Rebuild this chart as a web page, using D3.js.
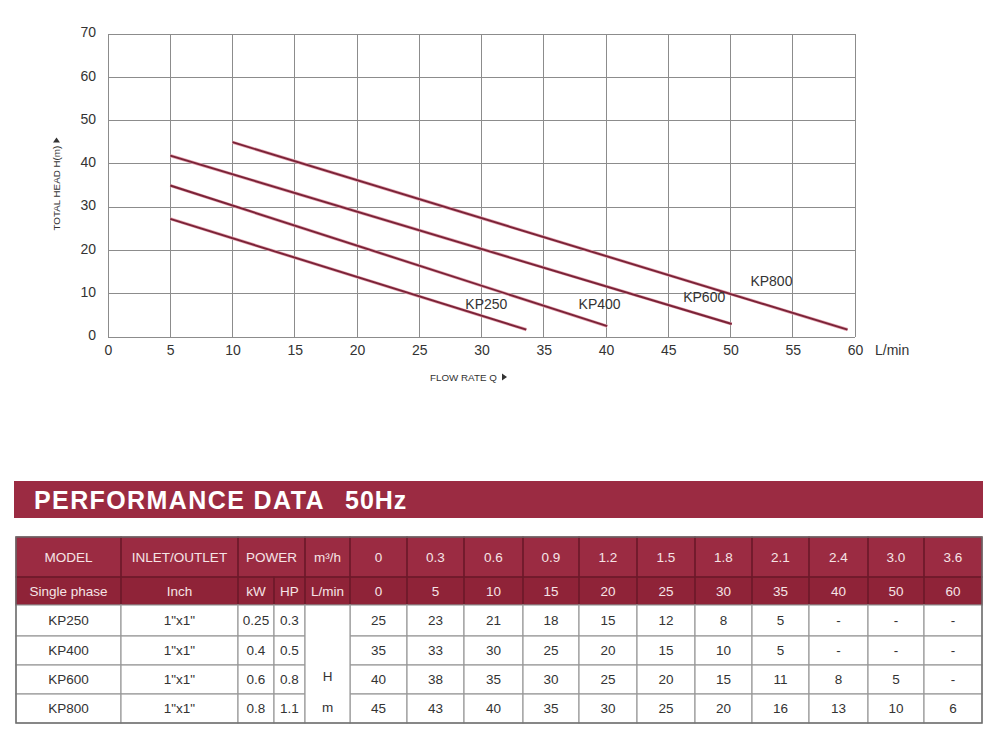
<!DOCTYPE html>
<html><head><meta charset="utf-8">
<script src="https://cdn.jsdelivr.net/npm/d3@7"></script>
<style>
html,body{margin:0;padding:0;background:#fff;}
svg{display:block;font-family:"Liberation Sans",Arial,Helvetica,sans-serif;}
</style></head>
<body>
<svg id="c" width="998" height="738"></svg>
<script>
// ---------- DATA ----------
const xTicks = [0,5,10,15,20,25,30,35,40,45,50,55,60];
const yTicks = [0,10,20,30,40,50,60,70];
const modelNames = ["KP250","KP400","KP600","KP800"];
// performance curves: [flow L/min, head m]
const curveKP250 = [[5, 27.3], [33.6, 1.7]];
const curveKP400 = [[5, 35.0], [40.1, 2.5]];
const curveKP600 = [[5, 41.9], [50.1, 3.0]];
const curveKP800 = [[10, 45.0], [59.4, 1.7]];
// label anchors in data units [flow, head]
const curveLabelAt = [[28.7, 7.6], [37.8, 7.6], [46.2, 9.2], [51.6, 12.9]];

const flowM3h = ["0","0.3","0.6","0.9","1.2","1.5","1.8","2.1","2.4","3.0","3.6"];
const flowLmin = ["0","5","10","15","20","25","30","35","40","50","60"];
const inletOutlet = ['1"x1"','1"x1"','1"x1"','1"x1"'];
const powerKW = ["0.25","0.4","0.6","0.8"];
const powerHP = ["0.3","0.5","0.8","1.1"];
const headKP250 = ["25","23","21","18","15","12","8","5","-","-","-"];
const headKP400 = ["35","33","30","25","20","15","10","5","-","-","-"];
const headKP600 = ["40","38","35","30","25","20","15","11","8","5","-"];
const headKP800 = ["45","43","40","35","30","25","20","16","13","10","6"];

// ---------- CHART ----------
const svg = d3.select("#c");
const x = d3.scaleLinear().domain([0,60]).range([108,855]);
const y = d3.scaleLinear().domain([0,70]).range([337,34]);
const gridCol = "#8c8c8c", txtCol = "#333";

const g = svg.append("g");
g.append("g").selectAll("line").data(xTicks).join("line")
  .attr("x1", d=>x(d)).attr("x2", d=>x(d)).attr("y1", y(0)).attr("y2", y(70))
  .attr("stroke", gridCol).attr("stroke-width", 1).attr("shape-rendering","crispEdges");
g.append("g").selectAll("line").data(yTicks).join("line")
  .attr("x1", x(0)).attr("x2", x(60)).attr("y1", d=>y(d)).attr("y2", d=>y(d))
  .attr("stroke", gridCol).attr("stroke-width", 1).attr("shape-rendering","crispEdges");

// axes (labels only, via d3 axis)
const xAxis = g.append("g").attr("transform", `translate(0,${y(0)})`)
  .call(d3.axisBottom(x).tickValues(xTicks).tickSize(0).tickPadding(8).tickFormat(d3.format("d")));
xAxis.select(".domain").remove();
xAxis.selectAll("text").attr("font-size", 14).attr("fill", txtCol).attr("font-family","Liberation Sans, Arial, sans-serif");
const yAxis = g.append("g").attr("transform", `translate(${x(0)},0)`)
  .call(d3.axisLeft(y).tickValues(yTicks).tickSize(0).tickPadding(12).tickFormat(d3.format("d")));
yAxis.select(".domain").remove();
yAxis.selectAll("text").attr("font-size", 14).attr("fill", txtCol).attr("font-family","Liberation Sans, Arial, sans-serif")
  .attr("dy","0.2em");

// unit label
g.append("text").attr("x", x(60)+20).attr("y", y(0)+18).attr("font-size",14).attr("fill",txtCol).text("L/min");

// axis titles
const ytG = g.append("g").attr("transform", `translate(60,${(y(0)+y(70))/2 - 5}) rotate(-90)`);
ytG.append("text").attr("x",-50).attr("y",0).attr("font-size",9.8).attr("fill",txtCol).text("TOTAL HEAD H(m)");
ytG.append("path").attr("d","M38,-7 L38,0 L43,-3.5 Z").attr("fill",txtCol);
const xtG = g.append("g").attr("transform","translate(430,381)");
xtG.append("text").attr("x",0).attr("y",0).attr("font-size",9.8).attr("fill",txtCol).text("FLOW RATE Q");
xtG.append("path").attr("d","M72,-7.5 L72,-0.5 L77,-4 Z").attr("fill",txtCol);

// curves
const curves = [curveKP250, curveKP400, curveKP600, curveKP800];
const line = d3.line().x(d=>x(d[0])).y(d=>y(d[1]));
g.append("g").selectAll("path").data(curves).join("path")
  .attr("d", line).attr("fill","none").attr("stroke","#e4a3b0").attr("stroke-width",3.2);
g.append("g").selectAll("path").data(curves).join("path")
  .attr("d", line).attr("fill","none").attr("stroke","#7a2337").attr("stroke-width",1.9);
g.append("g").selectAll("text").data(modelNames).join("text")
  .attr("x",(d,i)=>x(curveLabelAt[i][0])).attr("y",(d,i)=>y(curveLabelAt[i][1]))
  .attr("dy","0.35em").attr("font-size",14).attr("fill",txtCol).text(d=>d);

// ---------- BANNER ----------
const red = "#9b2b42", redDark = "#8f2338", headTxt = "#f6e4e6";
svg.append("rect").attr("x",14).attr("y",481).attr("width",969).attr("height",37).attr("fill",red);
svg.append("text").attr("x",34).attr("y",509).attr("font-size",25).attr("font-weight","bold")
  .attr("letter-spacing",1.4).attr("fill","#fff").text("PERFORMANCE DATA");
svg.append("text").attr("x",345).attr("y",509).attr("font-size",25).attr("font-weight","bold")
  .attr("letter-spacing",1).attr("fill","#fff").text("50Hz");

// ---------- TABLE ----------
const colX = [16,121,238,274,305,350,407,464,523,579,637,695,752,809,868,924,982];
const rowY = [537,577,605,636,665,694,723];
const T = svg.append("g").attr("font-size",13.5);
function cell(c0,c1,r0,r1,fill,stroke){
  T.append("rect").attr("x",colX[c0]).attr("y",rowY[r0])
    .attr("width",colX[c1]-colX[c0]).attr("height",rowY[r1]-rowY[r0])
    .attr("fill",fill).attr("stroke",stroke).attr("stroke-width",1.2);
}
function txt(c0,c1,yy,s,col){
  T.append("text").attr("x",(colX[c0]+colX[c1])/2).attr("y",yy).attr("text-anchor","middle")
    .attr("dy","0.35em").attr("fill",col).text(s);
}
// header backgrounds
T.append("rect").attr("x",colX[0]).attr("y",rowY[0]).attr("width",colX[16]-colX[0]).attr("height",rowY[1]-rowY[0]).attr("fill",red);
T.append("rect").attr("x",colX[0]).attr("y",rowY[1]).attr("width",colX[16]-colX[0]).attr("height",rowY[2]-rowY[1]).attr("fill",redDark);
const hs = "#6d1a2a";
const head1 = [[0,1,"MODEL"],[1,2,"INLET/OUTLET"],[2,4,"POWER"],[4,5,"m³/h"]]
  .concat(flowM3h.map((v,i)=>[5+i,6+i,v]));
const head2 = [[0,1,"Single phase"],[1,2,"Inch"],[2,3,"kW"],[3,4,"HP"],[4,5,"L/min"]]
  .concat(flowLmin.map((v,i)=>[5+i,6+i,v]));
head1.forEach(([a,b,s])=>{ cell(a,b,0,1,"none",hs); txt(a,b,(rowY[0]+rowY[1])/2,s,headTxt); });
head2.forEach(([a,b,s])=>{ cell(a,b,1,2,"none",hs); txt(a,b,(rowY[1]+rowY[2])/2,s,headTxt); });

const heads = [headKP250, headKP400, headKP600, headKP800];
const ds = "#9a9a9a", dt = "#333";
modelNames.forEach((m,i)=>{
  const r = 2+i, cy = (rowY[r]+rowY[r+1])/2;
  const vals = [[0,1,m],[1,2,inletOutlet[i]],[2,3,powerKW[i]],[3,4,powerHP[i]]]
    .concat(heads[i].map((v,j)=>[5+j,6+j,v]));
  vals.forEach(([a,b,s])=>{ cell(a,b,r,r+1,"#fff",ds); txt(a,b,cy,s,dt); });
});
cell(4,5,2,6,"#fff",ds);
txt(4,5,(rowY[4]+rowY[5])/2 - 3,"H",dt);
txt(4,5,(rowY[5]+rowY[6])/2 - 1,"m",dt);
// outer frame
T.append("rect").attr("x",colX[0]).attr("y",rowY[0]).attr("width",colX[16]-colX[0]).attr("height",rowY[6]-rowY[0])
  .attr("fill","none").attr("stroke","#6e6e6e").attr("stroke-width",1.4);
</script>
</body></html>
